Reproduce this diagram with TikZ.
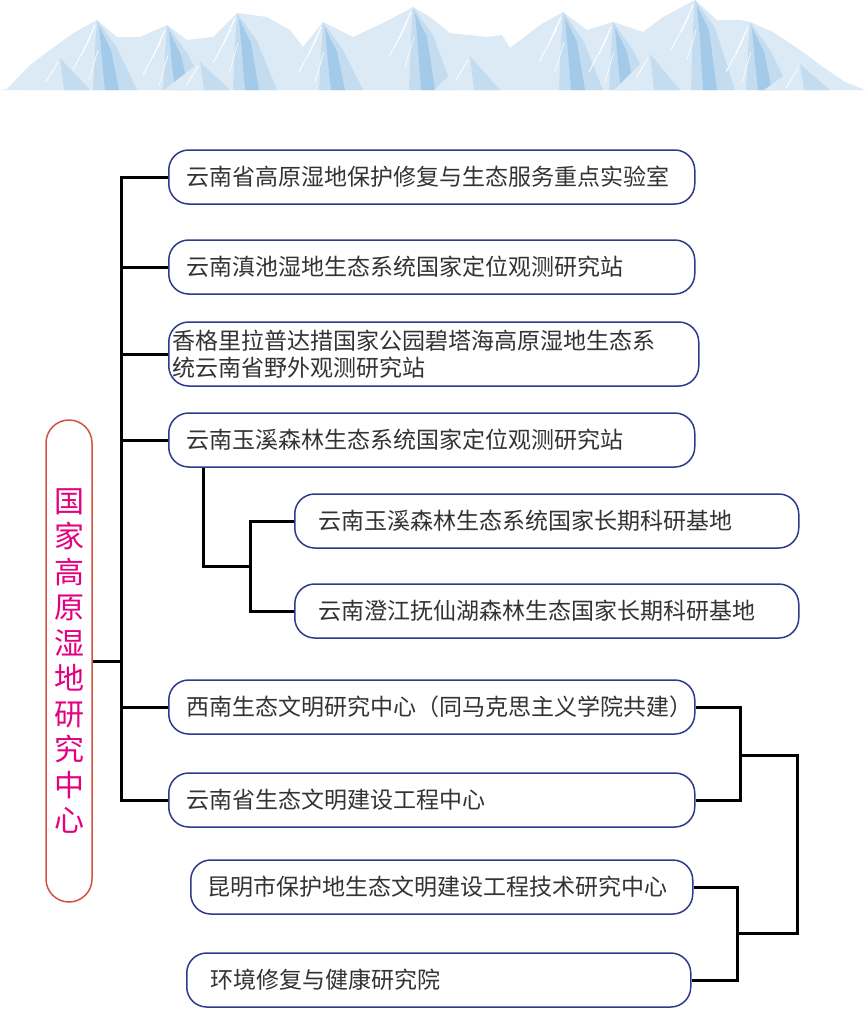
\documentclass[tikz,border=0pt]{standalone}
\usepackage{fontspec}
\newfontfamily\cjk{Noto Sans CJK SC}
\definecolor{unitblue}{HTML}{2E3A8C}
\definecolor{hubred}{HTML}{D0533F}
\definecolor{hubpink}{HTML}{E4007F}
\definecolor{textgray}{HTML}{333333}
\definecolor{snowA}{HTML}{DCEAF6}
\definecolor{snowB}{HTML}{C3DCF0}
\definecolor{snowC}{HTML}{A3CAE8}
\tikzset{
  unit/.style={draw=unitblue, line width=1.5pt, rounded corners=20pt, fill=white,
    align=left, minimum height=54pt, inner ysep=3pt, anchor=west, text=textgray,
    font=\cjk\fontsize{23}{27}\selectfont},
  hub/.style={draw=hubred, line width=1.5pt, rounded corners=23pt, minimum width=46pt,
    minimum height=482pt, text width=30pt, align=center, inner sep=0pt, text=hubpink,
    font=\cjk\fontsize{30}{35.5}\selectfont},
  link/.style={draw=black, line width=3pt}
}
\begin{document}
\begin{tikzpicture}[x=1pt,y=-1pt]
\useasboundingbox (0,0) rectangle (865,1009);
% mountains
\fill[snowA] (0,90) -- (7,89) -- (30,65) -- (50,50) -- (75,32) -- (97,20) -- (117,37) -- (140,37)
  -- (167,25) -- (187,40) -- (213,37) -- (237,13) -- (267,17) -- (290,30) -- (303,47) -- (323,22)
  -- (353,37) -- (383,23) -- (413,7) -- (430,17) -- (450,33) -- (487,37) -- (502,35) -- (510,48)
  -- (540,25) -- (563,12) -- (587,30) -- (613,22) -- (643,32) -- (663,17) -- (695,0) -- (717,20)
  -- (740,20) -- (750,22) -- (773,32) -- (800,50) -- (823,67) -- (845,82) -- (863,89) -- (865,90) -- cycle;
\foreach \px/\py in {97/20,167/25,237/13,323/22,413/7,563/12,613/22,695/0,750/22} {
  \fill[snowB] (\px,\py) -- (\px+20,\py+28) -- (\px+40,90) -- (\px-4,90) -- (\px-2,\py+30) -- cycle;
  \fill[snowC] (\px+2,\py+6) -- (\px+14,\py+30) -- (\px+22,90) -- (\px+8,90) -- (\px+5,\py+40) -- cycle;
  \draw[white, line width=1pt] (\px-2,\py+5) -- (\px-14,\py+32);
  \draw[white, line width=0.8pt] (\px-6,\py+16) -- (\px-24,\py+50);
  \draw[white, line width=0.6pt] (\px+1,\py+30) -- (\px-8,\py+60);
}
\foreach \px/\py in {60/58,200/62,470/56,650/54,800/64} {
  \fill[snowA] (\px,\py) -- (\px+30,90) -- (\px-36,90) -- cycle;
  \fill[snowB] (\px,\py) -- (\px+30,90) -- (\px+4,90) -- cycle;
  \draw[white, line width=0.8pt] (\px-2,\py+4) -- (\px-14,\py+24);
}
% nodes
\node[hub] (hub) at (69,661) {国\\家\\高\\原\\湿\\地\\研\\究\\中\\心};
\node[unit, text width=490pt, inner xsep=18pt] (lab1) at (168,177) {云南省高原湿地保护修复与生态服务重点实验室};
\node[unit, text width=490pt, inner xsep=18pt] (lab2) at (168,267) {云南滇池湿地生态系统国家定位观测研究站};
\node[unit, text width=522pt, inner xsep=4pt, minimum height=64pt] (lab3) at (168,354) {香格里拉普达措国家公园碧塔海高原湿地生态系\\统云南省野外观测研究站};
\node[unit, text width=490pt, inner xsep=18pt] (lab4) at (168,440) {云南玉溪森林生态系统国家定位观测研究站};
\node[unit, text width=456pt, inner xsep=24pt] (sub1) at (294,521) {云南玉溪森林生态系统国家长期科研基地};
\node[unit, text width=456pt, inner xsep=24pt] (sub2) at (294,611) {云南澄江抚仙湖森林生态国家长期科研基地};
\node[unit, text width=490pt, inner xsep=18pt] (ctr1) at (168,707) {西南生态文明研究中心（同马克思主义学院共建）};
\node[unit, text width=490pt, inner xsep=18pt] (ctr2) at (168,800) {云南省生态文明建设工程中心};
\node[unit, text width=468pt, inner xsep=17pt] (ctr3) at (190,887) {昆明市保护地生态文明建设工程技术研究中心};
\node[unit, text width=456pt, inner xsep=24pt] (ctr4) at (186,980) {环境修复与健康研究院};
% connectors
\coordinate (spine) at (121,177);
\coordinate (fork) at (250,566);
\coordinate (brA) at (740,755);
\coordinate (brB) at (737,933);
\draw[link] (lab1.west) -- (spine) |- (ctr2.west);
\foreach \n in {lab2,lab3,lab4,ctr1}
  \draw[link] (\n.west) -- (\n.west -| spine);
\draw[link] (hub.east) -- (hub.east -| spine);
\draw[link] ([xshift=35pt]lab4.south west) |- (fork);
\draw[link] (sub1.west) -| (fork) |- (sub2.west);
\draw[link] (ctr1.east) -| (brA) |- (ctr2.east);
\draw[link] (ctr3.east) -| (brB) |- (ctr4.east);
\draw[link] (brA) -- ++(57,0) |- (brB);
\end{tikzpicture}
\end{document}
